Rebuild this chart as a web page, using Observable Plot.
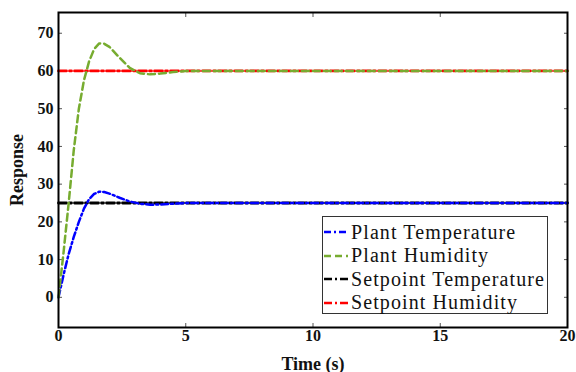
<!DOCTYPE html>
<html>
<head>
<meta charset="utf-8">
<script src="https://cdn.jsdelivr.net/npm/d3@7"></script>
<script src="https://cdn.jsdelivr.net/npm/@observablehq/plot@0.6"></script>
<style>
  html, body { margin: 0; padding: 0; background: #fff; }
  #wrap { position: relative; width: 576px; height: 372px; overflow: hidden; font-family: "Liberation Serif", "DejaVu Serif", serif; }
  #wrap svg { font-family: "Liberation Serif", serif; }
  [aria-label="x-axis tick label"] text, [aria-label="y-axis tick label"] text { font-weight: bold; font-size: 16px; fill: #111; }
  [aria-label="x-axis label"] text, [aria-label="y-axis label"] text { font-weight: bold; font-size: 18px; fill: #111; }
  #legend { position: absolute; left: 322px; top: 216px; width: 224px; height: 96px; border: 1.5px solid #333; background: #fff; }
  .row { position: absolute; left: 0; height: 24px; display: flex; align-items: center; font-size: 20px; letter-spacing: 1.1px; color: #111; white-space: nowrap; }
  .row svg { margin-right: 2px; }
</style>
</head>
<body>
<div id="wrap"></div>
<script>
// Data
const time = [0, 0.2, 0.4, 0.6, 0.8, 1.0, 1.2, 1.4, 1.6, 1.8, 2.0, 2.4, 2.8, 3.2, 3.6, 4.0, 4.5, 5, 6, 8, 10, 15, 20];
const plantTemperature = [0, 6, 11.5, 16, 20, 23.5, 26, 27.4, 28, 27.9, 27.5, 26.4, 25.4, 24.8, 24.55, 24.6, 24.8, 25, 25, 25, 25, 25, 25];
const plantHumidity = [0, 12, 25, 39, 50, 57.5, 62.5, 65.8, 67.3, 67.2, 66.4, 63.5, 60.8, 59.4, 59.1, 59.3, 59.7, 60, 60, 60, 60, 60, 60];
const setpointTime = [0, 20];
const setpointTemperature = [25, 25];
const setpointHumidity = [60, 60];
const xTicks = [0, 5, 10, 15, 20];
const yTicks = [0, 10, 20, 30, 40, 50, 60, 70];

const seriesNames = ["Plant Temperature", "Plant Humidity", "Setpoint Temperature", "Setpoint Humidity"];
const seriesColors = ["#0000ff", "#77ac30", "#000000", "#ff0000"];
const seriesDash = ["7,3,2,3", "7,4", "8,3,2,3", "8,3,2,3"];
const seriesWidth = [2.5, 2.5, 2.8, 2.8];

const plantRows = time.flatMap((t, i) => [
  {t, v: plantTemperature[i], s: seriesNames[0]},
  {t, v: plantHumidity[i], s: seriesNames[1]}
]);
const setRows = setpointTime.flatMap((t, i) => [
  {t, v: setpointTemperature[i], s: seriesNames[2]},
  {t, v: setpointHumidity[i], s: seriesNames[3]}
]);

const lineFor = (rows, idx) => Plot.line(rows.filter(d => d.s === seriesNames[idx]), {
  x: "t", y: "v", stroke: seriesColors[idx], strokeWidth: seriesWidth[idx], strokeDasharray: seriesDash[idx]
});

const chart = Plot.plot({
  width: 576,
  height: 372,
  marginLeft: 58,
  marginRight: 9,
  marginTop: 12,
  marginBottom: 45,
  x: {domain: [0, 20]},
  y: {domain: [-8, 75.5]},
  marks: [
    Plot.axisX({anchor: "bottom", ticks: xTicks, tickSize: -4, tickPadding: 6, stroke: "#555", label: "Time (s)", labelAnchor: "center", labelArrow: "none", labelOffset: 42}),
    Plot.axisX(xTicks, {anchor: "top", tickSize: -4, stroke: "#555", text: null, label: null}),
    Plot.axisY({anchor: "left", ticks: yTicks, tickSize: -4, tickPadding: 9, stroke: "#555", label: "Response", labelAnchor: "center", labelArrow: "none", labelOffset: 48}),
    Plot.axisY(yTicks, {anchor: "right", tickSize: -4, stroke: "#555", text: null, label: null}),
    lineFor(setRows, 2),
    lineFor(plantRows, 0),
    lineFor(setRows, 3),
    lineFor(plantRows, 1),
    Plot.frame({stroke: "#000", strokeWidth: 2})
  ]
});

const wrap = document.getElementById("wrap");
wrap.appendChild(chart);

// Legend
const legend = document.createElement("div");
legend.id = "legend";
seriesNames.forEach((name, i) => {
  const row = document.createElement("div");
  row.className = "row";
  row.style.top = (3 + i * 23.5) + "px";
  row.innerHTML = `<svg width="26" height="10"><line x1="1" y1="5" x2="25" y2="5" stroke="${seriesColors[i]}" stroke-width="2.5" stroke-dasharray="${seriesDash[i]}"/></svg><span>${name}</span>`;
  legend.appendChild(row);
});
wrap.appendChild(legend);
</script>
</body>
</html>
